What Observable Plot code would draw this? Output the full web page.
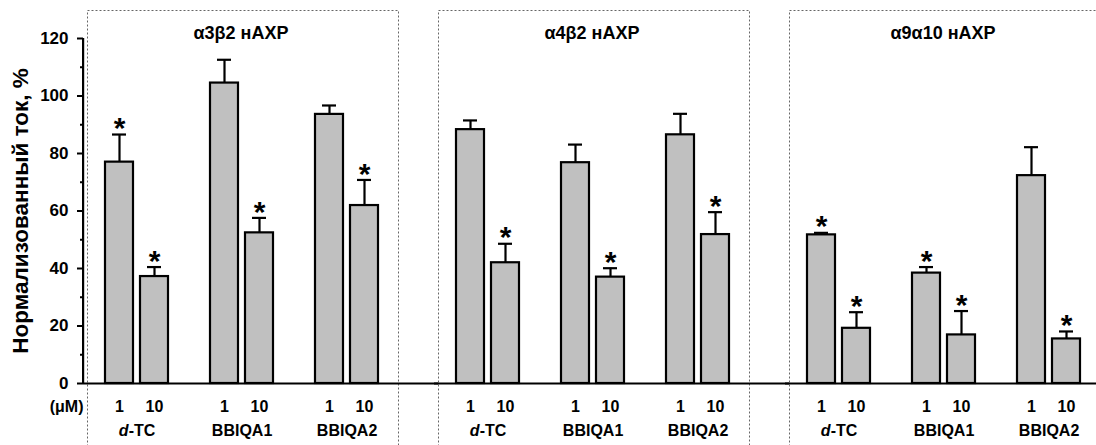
<!DOCTYPE html>
<html>
<head>
<meta charset="utf-8">
<script src="https://cdn.jsdelivr.net/npm/d3@7"></script>
<script src="https://cdn.jsdelivr.net/npm/@observablehq/plot@0.6"></script>
<style>
  html, body { margin: 0; padding: 0; background: #fff; overflow: hidden; }
  #chart svg { display: block; }
</style>
</head>
<body>
<div id="chart"></div>
<script>
// ---- data ----
const receptors = ["α3β2 нАХР", "α4β2 нАХР", "α9α10 нАХР"];
const drugs = ["d-TC", "BBIQA1", "BBIQA2"];
const concs = ["1", "10"];
const concUnit = "(μM)";
const yLabel = "Нормализованный ток, %";
const yTicks = [0, 20, 40, 60, 80, 100, 120];
const yMinorTicks = [10, 30, 50, 70, 90, 110];

// values ordered drug x conc: d-TC 1, d-TC 10, BBIQA1 1, BBIQA1 10, BBIQA2 1, BBIQA2 10
const meanA3B2 = [77.0, 37.2, 104.5, 52.4, 93.6, 61.9];
const semA3B2  = [9.6, 3.3, 8.1, 5.2, 3.1, 8.9];
const sigA3B2  = [1, 1, 0, 1, 0, 1];

const meanA4B2 = [88.3, 42.0, 76.8, 37.0, 86.5, 51.8];
const semA4B2  = [3.2, 6.6, 6.3, 3.1, 7.3, 7.8];
const sigA4B2  = [0, 1, 0, 1, 0, 1];

const meanA9A10 = [51.7, 19.2, 38.4, 16.9, 72.3, 15.5];
const semA9A10  = [0.7, 5.6, 2.1, 8.3, 9.9, 2.6];
const sigA9A10  = [1, 1, 1, 1, 0, 1];

// ---- build table ----
const means = [meanA3B2, meanA4B2, meanA9A10];
const sems = [semA3B2, semA4B2, semA9A10];
const sigs = [sigA3B2, sigA4B2, sigA9A10];
const slotKey = (d, c) => `${d} ${c}`;
const slots = drugs.flatMap((d, i) => [
  ...concs.map(c => slotKey(d, c)),
  ...(i < drugs.length - 1 ? [`gap${i}`] : [])
]);

const rows = receptors.flatMap((r, ri) => drugs.flatMap((d, di) => concs.map((c, ci) => {
  const k = di * concs.length + ci;
  return {receptor: r, drug: d, conc: c, slot: slotKey(d, c),
          mean: means[ri][k], sem: sems[ri][k], top: means[ri][k] + sems[ri][k], sig: sigs[ri][k] === 1};
})));
const drugRows = receptors.flatMap(r => drugs.map(d => ({receptor: r, drug: d, slot: slotKey(d, concs[0])})));
const firstPanel = [{receptor: receptors[0], t: yLabel, u: concUnit}];
const yTickRows = yTicks.map(v => ({receptor: receptors[0], v}));
const yMinorRows = yMinorTicks.map(v => ({receptor: receptors[0], v}));
const titleRows = receptors.map(r => ({receptor: r}));

// ---- layout ----
const W = 1096, H = 445;
const mLeft = 83, mTop = 38, mBottom = 62, mRight = -4;
const fxPadInner = 0.1026;
const xPadInner = 0.133, xPadOuter = 0.544;
const fxStep = (W - mRight - mLeft) / (receptors.length - fxPadInner);
const facetW = fxStep * (1 - fxPadInner);
const xStep = facetW / (slots.length - xPadInner + 2 * xPadOuter);

const font = "Liberation Sans, Arial, Helvetica, sans-serif";
const labelSize = 16;

const chart = Plot.plot({
  width: W,
  height: H,
  marginLeft: mLeft,
  marginTop: mTop,
  marginBottom: mBottom,
  marginRight: mRight,
  style: {fontFamily: font, color: "#000", background: "#fff"},
  fx: {domain: receptors, paddingInner: fxPadInner, paddingOuter: 0, axis: null},
  x: {domain: slots, paddingInner: xPadInner, paddingOuter: xPadOuter, align: 0.53, axis: null},
  y: {domain: [0, 120], axis: null},
  marks: [
    Plot.frame({stroke: "#666", strokeWidth: 1, strokeDasharray: "2,2", insetTop: -28, insetBottom: -80, insetLeft: 4}),
    Plot.barY(rows, {fx: "receptor", x: "slot", y: "mean", fill: "#c0c0c0", stroke: "#000", strokeWidth: 2.2, insetLeft: 1, insetRight: 1}),
    Plot.ruleX(rows, {fx: "receptor", x: "slot", y1: "mean", y2: "top", stroke: "#000", strokeWidth: 2.2}),
    Plot.tickY(rows, {fx: "receptor", x: "slot", y: "top", stroke: "#000", strokeWidth: 2.2, insetLeft: 8, insetRight: 8}),
    Plot.text(rows.filter(d => d.sig), {fx: "receptor", x: "slot", y: "top", text: () => "*", dy: -6, fontSize: 30, fontWeight: "bold"}),
    Plot.ruleY([0], {stroke: "#000", strokeWidth: 2.2, insetRight: -40}),
    Plot.rect(firstPanel, {fx: "receptor", fill: "#000", insetLeft: -1, insetRight: facetW - 1.2}),
    Plot.tickY(yMinorRows, {fx: "receptor", y: "v", stroke: "#000", strokeWidth: 2, insetLeft: -3, insetRight: facetW}),
    Plot.tickY(yTickRows, {fx: "receptor", y: "v", stroke: "#000", strokeWidth: 2, insetLeft: -6, insetRight: facetW}),
    Plot.text(yTickRows, {fx: "receptor", y: "v", text: d => String(d.v), frameAnchor: "left", textAnchor: "end", dx: -15, fontSize: 17, fontWeight: "bold"}),
    Plot.text(firstPanel, {fx: "receptor", text: "t", frameAnchor: "left", textAnchor: "middle", rotate: -90, dx: -63, fontSize: 22.5, fontWeight: "bold"}),
    Plot.text(rows, {fx: "receptor", x: "slot", text: "conc", frameAnchor: "bottom", dy: 28, fontSize: labelSize, fontWeight: "bold"}),
    Plot.text(firstPanel, {fx: "receptor", text: "u", frameAnchor: "bottom-left", textAnchor: "end", dy: 28, dx: 0, fontSize: labelSize, fontWeight: "bold"}),
    Plot.text(drugRows, {fx: "receptor", x: "slot", text: "drug", frameAnchor: "bottom", dy: 52, dx: xStep / 2, fontSize: labelSize, fontWeight: "bold"}),
    Plot.text(titleRows, {fx: "receptor", text: "receptor", frameAnchor: "top", dy: -12, fontSize: 18, fontWeight: "bold"})
  ]
});

// italic "d" in d-TC
chart.querySelectorAll("text").forEach(t => {
  if (t.textContent === "d-TC" && t.children.length === 0) {
    t.textContent = "";
    const ns = "http://www.w3.org/2000/svg";
    const a = document.createElementNS(ns, "tspan");
    a.setAttribute("font-style", "italic");
    a.textContent = "d";
    const b = document.createElementNS(ns, "tspan");
    b.textContent = "-TC";
    t.appendChild(a);
    t.appendChild(b);
  }
});

document.getElementById("chart").appendChild(chart);
</script>
</body>
</html>
